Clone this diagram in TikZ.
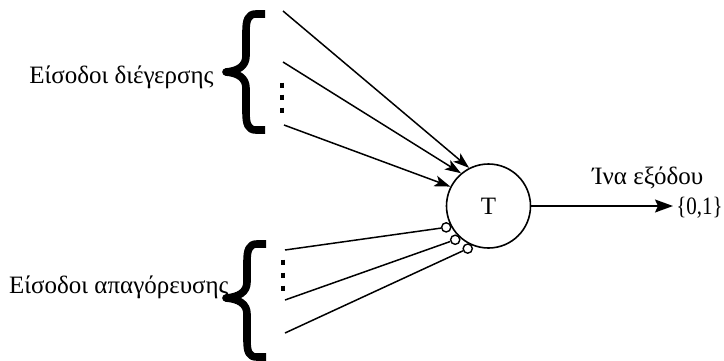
\documentclass[tikz,border=0pt]{standalone}
\usepackage{fontspec}
\setmainfont{Liberation Serif}
\usetikzlibrary{arrows.meta,calc}
\begin{document}
\begin{tikzpicture}[x=0.5pt,y=-0.5pt,
  wire/.style={line width=0.75pt},
  exarrow/.style={wire,-{Stealth[length=8pt,width=5.5pt,inset=2pt]}},
  outarrow/.style={wire,-{Stealth[length=9pt,width=6.5pt,inset=1.5pt]}},
  bracepath/.style={line width=3.8pt,line cap=butt,line join=round},
  lbl/.style={font=\fontsize{12.5}{15}\selectfont,inner sep=0pt},
  inhib/.style={circle,draw,line width=0.7pt,fill=white,minimum size=4.6pt,inner sep=0pt},
  dotmark/.style={line width=1.8pt}]
\useasboundingbox (0,0) rectangle (724,360);
% neuron
\node[circle,draw,line width=0.8pt,minimum size=42pt,inner sep=0pt,
      font=\fontsize{12.5}{15}\selectfont] (T) at (488.5,206) {T};
% excitatory inputs
\coordinate (e1) at (283,11);
\coordinate (e2) at (283,62);
\coordinate (e3) at (284,125);
\draw[exarrow] (e1) -- (T.117);
\draw[exarrow] (e2) -- (T.130);
\draw[exarrow] (e3) -- (T.153);
\foreach \y in {85,97,110} \draw[dotmark] (282,\y-2.5) -- (282,\y+2.5);
% inhibitory inputs
\node[inhib] (i1) at ($(T)+(206.8:23.7pt)$) {};
\node[inhib] (i2) at ($(T)+(225.4:23.7pt)$) {};
\node[inhib] (i3) at ($(T)+(244:23.7pt)$) {};
\coordinate (h1) at (285,250);
\coordinate (h2) at (285,300);
\coordinate (h3) at (285,333);
\draw[wire] (h1) -- (i1);
\draw[wire] (h2) -- (i2);
\draw[wire] (h3) -- (i3);
\foreach \y in {262,275,288} \draw[dotmark] (283,\y-2.5) -- (283,\y+2.5);
% output
\coordinate (o) at (673,206);
\draw[outarrow] (T.east) -- (o);
\node[lbl,anchor=base west] (outlbl) at (592,184) {Ίνα εξόδου};
\node[lbl,anchor=base west] (outval) at (676,214) {\scalebox{0.84}[1]{\{0,1\}}};
% braces
\draw[bracepath] (265,14) -- (256,14) .. controls (248,14) and (246,20) .. (246,32)
  -- (246,56) .. controls (246,66) and (238,71) .. (226,72)
  .. controls (238,73) and (246,78) .. (246,88)
  -- (246,112) .. controls (246,124) and (248,130) .. (256,130) -- (265,130);
\draw[bracepath] (266,244) -- (257,244) .. controls (249,244) and (247,250) .. (247,262)
  -- (247,282) .. controls (247,292) and (239,297) .. (226,298)
  .. controls (239,299) and (247,304) .. (247,314)
  -- (247,340) .. controls (247,352) and (249,357) .. (257,357) -- (266,357);
% labels
\node[lbl,anchor=base east] (exlbl) at (214,83) {Είσοδοι διέγερσης};
\node[lbl,anchor=base east] (inlbl) at (229,293) {Είσοδοι απαγόρευσης};
\end{tikzpicture}
\end{document}
